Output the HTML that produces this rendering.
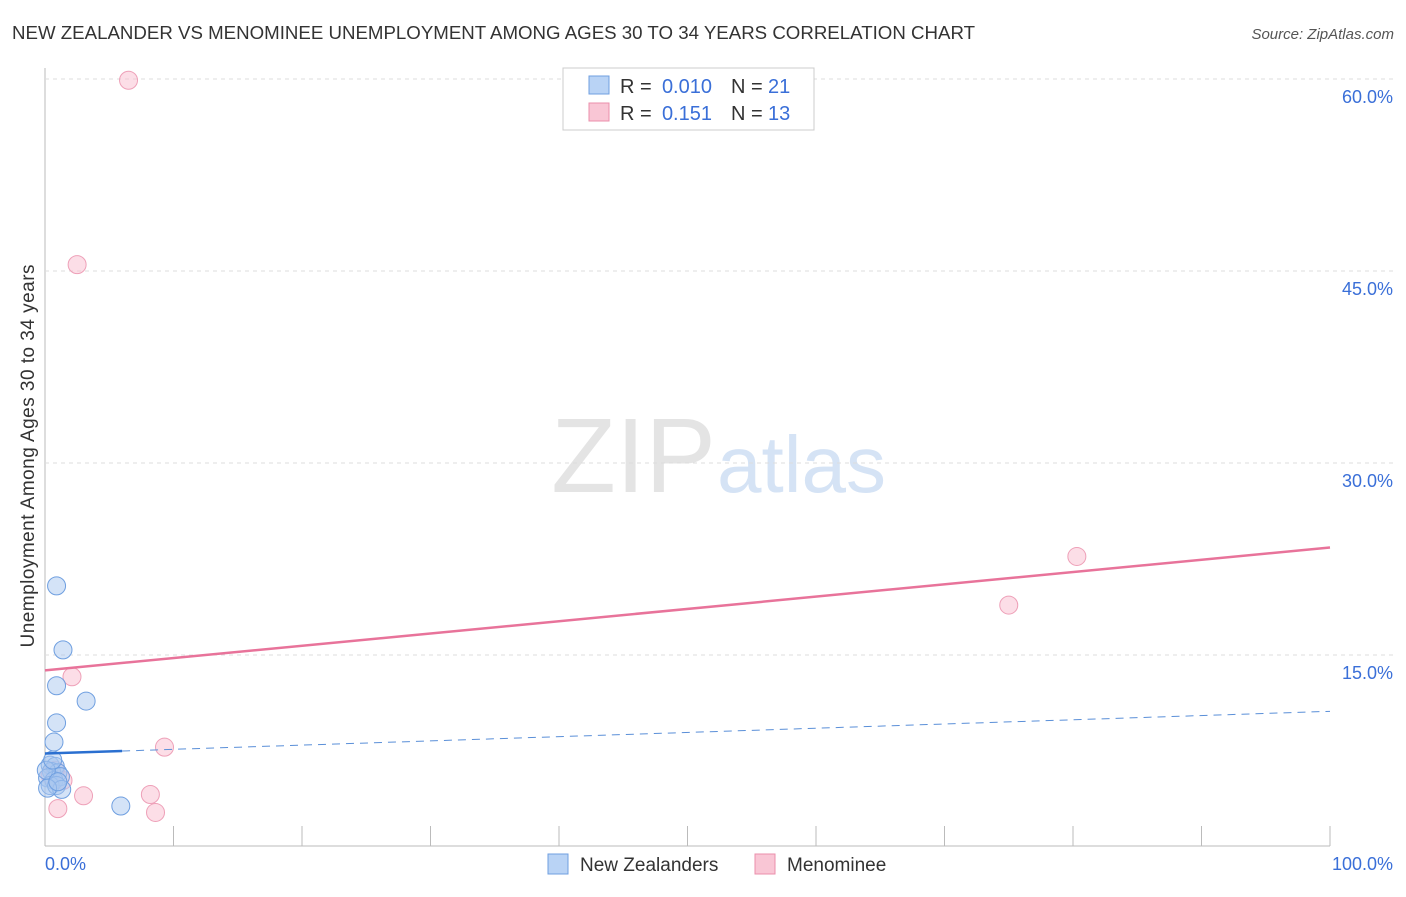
<!DOCTYPE html>
<html><head><meta charset="utf-8"><style>
body{margin:0;background:#fff;font-family:"Liberation Sans",sans-serif}
svg text{font-family:"Liberation Sans",sans-serif}
</style></head><body>
<svg id="c" width="1406" height="892">
<text x="12" y="39" font-size="18" textLength="963" lengthAdjust="spacingAndGlyphs" fill="#333">NEW ZEALANDER VS MENOMINEE UNEMPLOYMENT AMONG AGES 30 TO 34 YEARS CORRELATION CHART</text>
<text x="1394" y="39" font-size="15" fill="#555" text-anchor="end" font-style="italic">Source: ZipAtlas.com</text>
<text x="716" y="492" font-size="106" fill="#e4e4e4" text-anchor="end" font-family="Liberation Serif">ZIP</text>
<text x="717" y="492" font-size="80" fill="#d5e3f5">atlas</text>
<text transform="translate(34,456) rotate(-90)" font-size="19" textLength="383" fill="#333" text-anchor="middle">Unemployment Among Ages 30 to 34 years</text>
<g id="grid"></g><g id="marks"></g>
<g>
<rect x="563" y="68" width="251" height="62" fill="#fff" stroke="#ccc"/>
<rect x="589" y="76" width="20" height="18" fill="#b9d3f5" stroke="#6f9fe0"/>
<rect x="589" y="103" width="20" height="18" fill="#f9c6d5" stroke="#eb8fab"/>
<text x="620" y="93" font-size="20" fill="#333">R =</text>
<text x="712" y="93" font-size="20" fill="#3a6fd8" text-anchor="end">0.010</text>
<text x="731" y="93" font-size="20" fill="#333">N =</text>
<text x="768" y="93" font-size="20" fill="#3a6fd8">21</text>
<text x="620" y="120" font-size="20" fill="#333">R =</text>
<text x="712" y="120" font-size="20" fill="#3a6fd8" text-anchor="end">0.151</text>
<text x="731" y="120" font-size="20" fill="#333">N =</text>
<text x="768" y="120" font-size="20" fill="#3a6fd8">13</text>
</g>
<g>
<rect x="548" y="854" width="20" height="20" fill="#b9d3f5" stroke="#6f9fe0"/>
<text x="580" y="871" font-size="19" fill="#333">New Zealanders</text>
<rect x="755" y="854" width="20" height="20" fill="#f9c6d5" stroke="#eb8fab"/>
<text x="787" y="871" font-size="19" fill="#333">Menominee</text>
</g>
</svg>
<script>
const yTicks=[15,30,45,60];
const yTickLabels=["15.0%","30.0%","45.0%","60.0%"];
const xTickLabels=["0.0%","100.0%"];
const blueX=[0.9,1.4,0.9,3.2,0.9,0.7,5.9,0.4,0.8,0.5,1.0,0.2,0.7,1.2,0.4,0.9,1.3,0.1,0.6,0.2,1.0];
const blueY=[20.4,15.4,12.6,11.4,9.7,8.2,3.2,6.4,6.3,5.9,5.8,5.4,5.2,5.5,4.8,4.8,4.5,6.0,6.8,4.6,5.1];
const pinkX=[6.5,2.5,2.1,9.3,80.3,75,1.4,3.0,8.2,8.6,1.0,0.4,0.8];
const pinkY=[59.9,45.5,13.3,7.8,22.7,18.9,5.2,4.0,4.1,2.7,3.0,5.6,6.0];
const blueTrend=[7.3,10.6], pinkTrend=[13.8,23.4];
const X=v=>45+v*12.85, Y=v=>847-v*12.8;
const ns="http://www.w3.org/2000/svg";
function mk(p,t,a){const e=document.createElementNS(ns,t);for(const k in a)e.setAttribute(k,a[k]);p.appendChild(e);return e;}
const g=document.getElementById('grid'),m=document.getElementById('marks');
let ax=mk(g,'line',{x1:45,y1:68,x2:45,y2:846,stroke:'#bbb'});

let bx=mk(g,'line',{x1:45,y1:846,x2:1330,y2:846,stroke:'#bbb'});

for(let i=0;i<=10;i++){let t=mk(g,'line',{x1:X(i*10),y1:826,x2:X(i*10),y2:846,stroke:'#bbb'});
}
yTicks.forEach((v,i)=>{let l=mk(g,'line',{x1:45,y1:Y(v),x2:1393,y2:Y(v),stroke:'#ddd','stroke-dasharray':'4,4'});

let t=mk(g,'text',{x:1393,y:Y(v)+24,'font-size':18,fill:'#3a6fd8','text-anchor':'end'});t.textContent=yTickLabels[i];
});
[[0,45,'start'],[1,1393,'end']].forEach(([i,x,a])=>{let t=mk(g,'text',{x:x,y:870,'font-size':18,fill:'#3a6fd8','text-anchor':a});t.textContent=xTickLabels[i];
});
pinkX.forEach((x,i)=>{let c=mk(m,'circle',{cx:X(x),cy:Y(pinkY[i]),r:9,fill:'rgba(249,190,208,0.5)',stroke:'#eea0b8'});
});
blueX.forEach((x,i)=>{let c=mk(m,'circle',{cx:X(x),cy:Y(blueY[i]),r:9,fill:'rgba(170,200,240,0.5)',stroke:'#6f9fe0'});
});
const bAt=v=>blueTrend[0]+(blueTrend[1]-blueTrend[0])*v/100;
let bl=mk(m,'line',{x1:X(0),y1:Y(bAt(0)),x2:X(6),y2:Y(bAt(6)),stroke:'#2a6fd0','stroke-width':2.5});

let bd=mk(m,'line',{x1:X(6),y1:Y(bAt(6)),x2:X(100),y2:Y(bAt(100)),stroke:'#5a8fd8','stroke-width':1,'stroke-dasharray':'8,6'});

let pl=mk(m,'line',{x1:X(0),y1:Y(pinkTrend[0]),x2:X(100),y2:Y(pinkTrend[1]),stroke:'#e8739a','stroke-width':2.5});

</script>
</body></html>
